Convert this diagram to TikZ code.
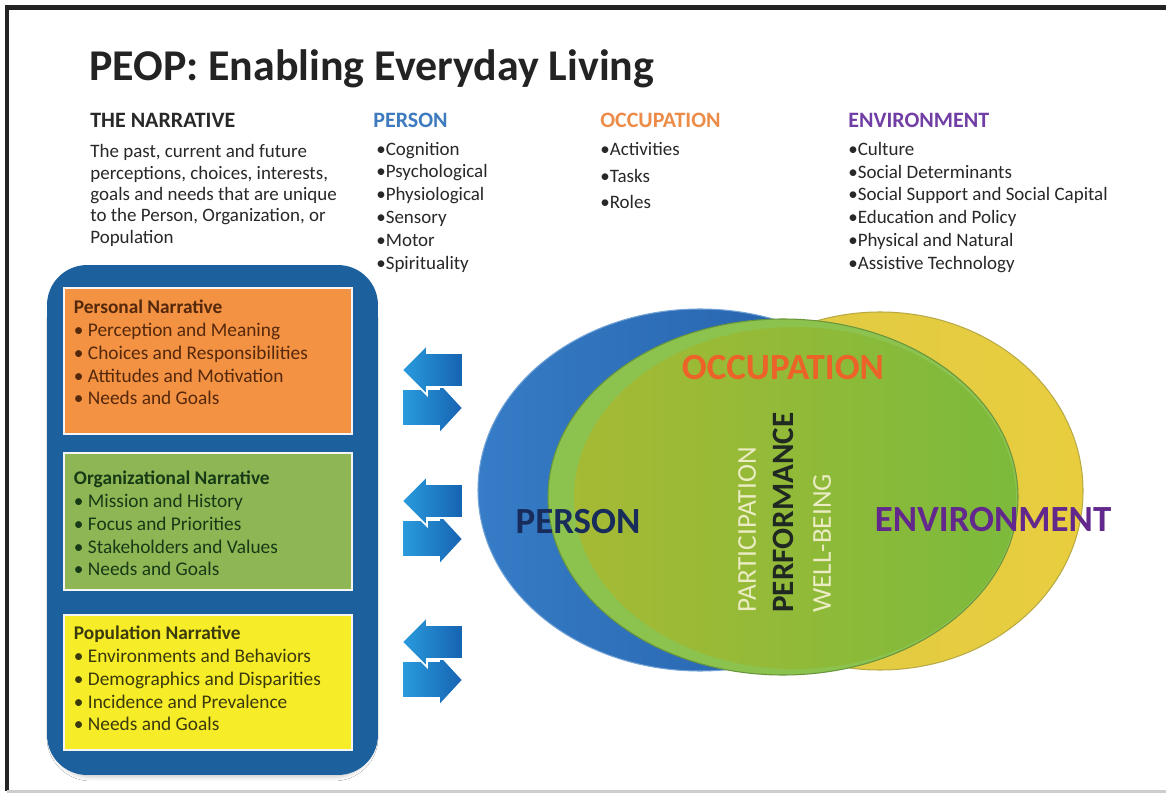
\documentclass[tikz,border=0pt]{standalone}
\usepackage{fontspec}
\setmainfont{Carlito}
\usepackage{xcolor}
\definecolor{frame-gray}{RGB}{35,35,35}
\definecolor{rule-gray}{RGB}{205,205,205}
\definecolor{ink}{RGB}{40,40,40}
\definecolor{person-blue}{RGB}{62,122,190}
\definecolor{occup-orange}{RGB}{236,140,72}
\definecolor{env-purple}{RGB}{112,62,165}
\definecolor{panel-blue}{RGB}{28,96,158}
\definecolor{orange-fill}{RGB}{243,146,66}
\definecolor{orange-ink}{RGB}{85,40,12}
\definecolor{green-fill}{RGB}{142,182,84}
\definecolor{green-ink}{RGB}{22,58,22}
\definecolor{yellow-fill}{RGB}{246,236,40}
\definecolor{yellow-ink}{RGB}{58,58,12}
\definecolor{arrow-light}{RGB}{42,156,222}
\definecolor{arrow-dark}{RGB}{22,98,176}
\definecolor{venn-blue-l}{RGB}{54,124,198}
\definecolor{venn-blue-d}{RGB}{34,90,164}
\definecolor{venn-yellow-l}{RGB}{222,200,70}
\definecolor{venn-yellow-r}{RGB}{232,206,62}
\definecolor{venn-yellow-edge}{RGB}{185,170,70}
\definecolor{venn-green}{RGB}{140,194,78}
\definecolor{venn-green-l}{RGB}{166,186,52}
\definecolor{venn-green-r}{RGB}{124,186,60}
\definecolor{venn-green-edge}{RGB}{105,150,60}
\definecolor{venn-navy}{RGB}{24,44,92}
\definecolor{venn-red}{RGB}{236,98,40}
\definecolor{venn-purple}{RGB}{98,40,140}
\definecolor{cream}{RGB}{236,236,196}
\definecolor{perf-ink}{RGB}{32,40,34}
\usepackage{tikz}
\usetikzlibrary{shadows.blur,positioning}

\begin{document}
\begin{tikzpicture}[
    x=0.02cm, y=-0.02cm,
    head/.style={font=\fontsize{12.5}{15}\selectfont\bfseries, anchor=west, inner sep=0pt},
    list text/.style={font=\fontsize{10.8}{13}\selectfont, text=ink, align=left, inner sep=0pt},
    panel/.style={fill=panel-blue, rounded corners=0.8cm, minimum width=6.62cm, minimum height=10.2cm,
        blur shadow={shadow xshift=0pt, shadow yshift=-5pt, shadow scale=0.97, shadow blur radius=3pt, shadow opacity=30}},
    narrative box/.style={draw=white!92!gray, line width=1.6pt, minimum width=5.76cm, inner sep=0pt},
    box text/.style={font=\fontsize{11}{13}\selectfont, align=left, anchor=north west, inner sep=0pt},
    venn label/.style={font=\fontsize{21}{25}\selectfont\bfseries, inner sep=0pt},
    axis label/.style={rotate=90, anchor=west, inner sep=0pt, font=\fontsize{15.5}{18}\selectfont},
    swap arrows/.pic={
        \shadedraw[left color=arrow-light, right color=arrow-dark, draw=white, line width=1pt]
            (0,42) -- (37,42) -- (37,35) -- (61,61) -- (37,87) -- (37,79) -- (0,79) -- cycle;
        \shadedraw[left color=arrow-light, right color=arrow-dark, draw=white, line width=1pt]
            (0,23) -- (25,-2) -- (25,6) -- (61,6) -- (61,40) -- (25,40) -- (25,48) -- cycle;
    }
]
\fill[white] (0,0) rectangle (1166,793);
\useasboundingbox (0,0) rectangle (1166,793);

% frame
\draw[frame-gray, line width=2.6pt] (1166,7.5) -- (7,7.5) -- (7,791);
\draw[rule-gray, line width=1.6pt] (7,791.5) -- (1166,791.5);

% title
\node[anchor=base west, inner sep=0pt, font=\fontsize{25}{30}\selectfont\bfseries, text=frame-gray] (title) at (89,81) {PEOP: Enabling Everyday Living};

% The narrative
\node[head, text=ink] (narrhead) at (90,120) {THE NARRATIVE};
\node[list text, font=\fontsize{10.8}{12.2}\selectfont, below=9.5pt of narrhead.south west, anchor=north west] (narrtext) {%
The past, current and future\\
perceptions, choices, interests,\\
goals and needs that are unique\\
to the Person, Organization, or\\
Population};

% Person
\node[head, text=person-blue] (perhead) at (373,120) {PERSON};
\node[list text, below=8pt of perhead.south west, anchor=north west, xshift=0.06cm] (perlist) {%
•Cognition\\
•Psychological\\
•Physiological\\
•Sensory\\
•Motor\\
•Spirituality};

% Occupation
\node[head, text=occup-orange] (occhead) at (600,120) {OCCUPATION};
\node[list text, font=\fontsize{10.8}{15.3}\selectfont, below=8pt of occhead.south west, anchor=north west] (occlist) {%
•Activities\\
•Tasks\\
•Roles};

% Environment
\node[head, text=env-purple] (envhead) at (848,120) {ENVIRONMENT};
\node[list text, below=8pt of envhead.south west, anchor=north west] (envlist) {%
•Culture\\
•Social Determinants\\
•Social Support and Social Capital\\
•Education and Policy\\
•Physical and Natural\\
•Assistive Technology};

% Narrative panel
\node[panel] (narratives) at (212.5,520) {};

\node[narrative box, fill=orange-fill, minimum height=2.92cm] (personal) at (208,361) {};
\node[box text, text=orange-ink] at ([shift={(11,13)}]personal.north west) {%
\textbf{Personal Narrative}\\
• Perception and Meaning\\
• Choices and Responsibilities\\
• Attitudes and Motivation\\
• Needs and Goals};

\node[narrative box, fill=green-fill, minimum height=2.74cm] (organizational) at (208,521.5) {};
\node[box text, text=green-ink] at ([shift={(11,19)}]organizational.north west) {%
\textbf{Organizational Narrative}\\
• Mission and History\\
• Focus and Priorities\\
• Stakeholders and Values\\
• Needs and Goals};

\node[narrative box, fill=yellow-fill, minimum height=2.7cm] (population) at (208,682.5) {};
\node[box text, text=yellow-ink] at ([shift={(11,12)}]population.north west) {%
\textbf{Population Narrative}\\
• Environments and Behaviors\\
• Demographics and Disparities\\
• Incidence and Prevalence\\
• Needs and Goals};

% Exchange arrows
\pic at (402,347) {swap arrows};
\pic at (402,478) {swap arrows};
\pic at (402,619) {swap arrows};

% Person, environment and occupation
\shadedraw[left color=venn-blue-l, right color=venn-blue-d, draw=venn-blue-l!70!white, line width=0.6pt]
    (700,490) ellipse [x radius=222, y radius=181];
\shadedraw[left color=venn-yellow-l, right color=venn-yellow-r, draw=venn-yellow-edge, line width=0.6pt]
    (880,491) ellipse [x radius=203, y radius=179];
\filldraw[fill=venn-green, draw=venn-green-edge, line width=0.6pt]
    (783,497) ellipse [x radius=235, y radius=178];
\shade[left color=venn-green-l, right color=venn-green-r]
    (795,498) ellipse [x radius=221, y radius=171];

\node[venn label, text=venn-navy] (vperson) at (578,522) {PERSON};
\node[venn label, text=venn-red] (voccup) at (783,368) {OCCUPATION};
\node[venn label, text=venn-purple] (venv) at (993,520) {ENVIRONMENT};

\node[axis label, text=cream] (vpart) at (747,613) {PARTICIPATION};
\node[axis label, text=perf-ink, font=\fontsize{17.7}{20}\selectfont\bfseries] (vperf) at (783,613) {PERFORMANCE};
\node[axis label, text=cream] (vwell) at (822,613) {WELL-BEING};

\end{tikzpicture}
\end{document}
